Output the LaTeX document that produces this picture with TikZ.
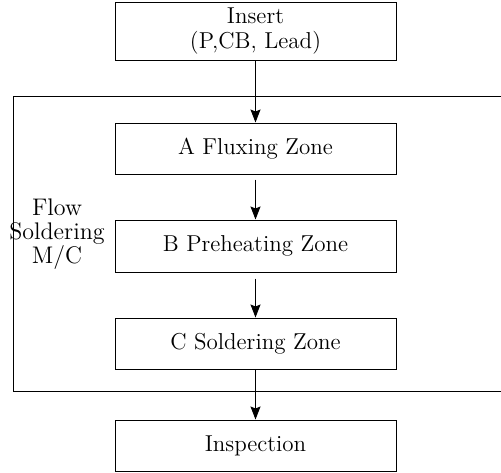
\documentclass[tikz,border=0pt]{standalone}
\usepackage{tikz}
\usetikzlibrary{arrows.meta}
\tikzset{zone/.style={draw,line width=.5pt,minimum width=140.5pt,minimum height=25.5pt,inner sep=0pt,align=center,font=\fontsize{11.5}{12.5}\selectfont}}

\begin{document}
\begin{tikzpicture}[>={Stealth[length=6.5pt,width=5pt,inset=1pt]},x=.5pt,y=-.5pt,line width=.5pt]
	\useasboundingbox (0,0) rectangle (501,472);
	\node[zone,minimum height=29pt] (insert) at (255.5,31) {Insert\\(P,CB, Lead)};
	\node[zone] (flux) at (255.5,148.5) {A Fluxing Zone};
	\node[zone,minimum height=26pt] (preheat) at (255.5,246) {B Preheating Zone};
	\node[zone] (solder) at (255.5,343.5) {C Soldering Zone};
	\node[zone] (inspect) at (255.5,445.5) {Inspection};
	% machine frame, open on the right
	\draw (501,96)--(13,96)--(13,391)--(501,391);
	\node[align=center,font=\fontsize{12}{12}\selectfont] (mc) at (57,234) {Flow\\Soldering\\M/C};
	\draw[->] (insert)--(flux);
	\draw[->,shorten <=2.5pt] (flux)--(preheat);
	\draw[->,shorten <=3pt] (preheat)--(solder);
	\draw[->] (solder)--(inspect);
\end{tikzpicture}
\end{document}
